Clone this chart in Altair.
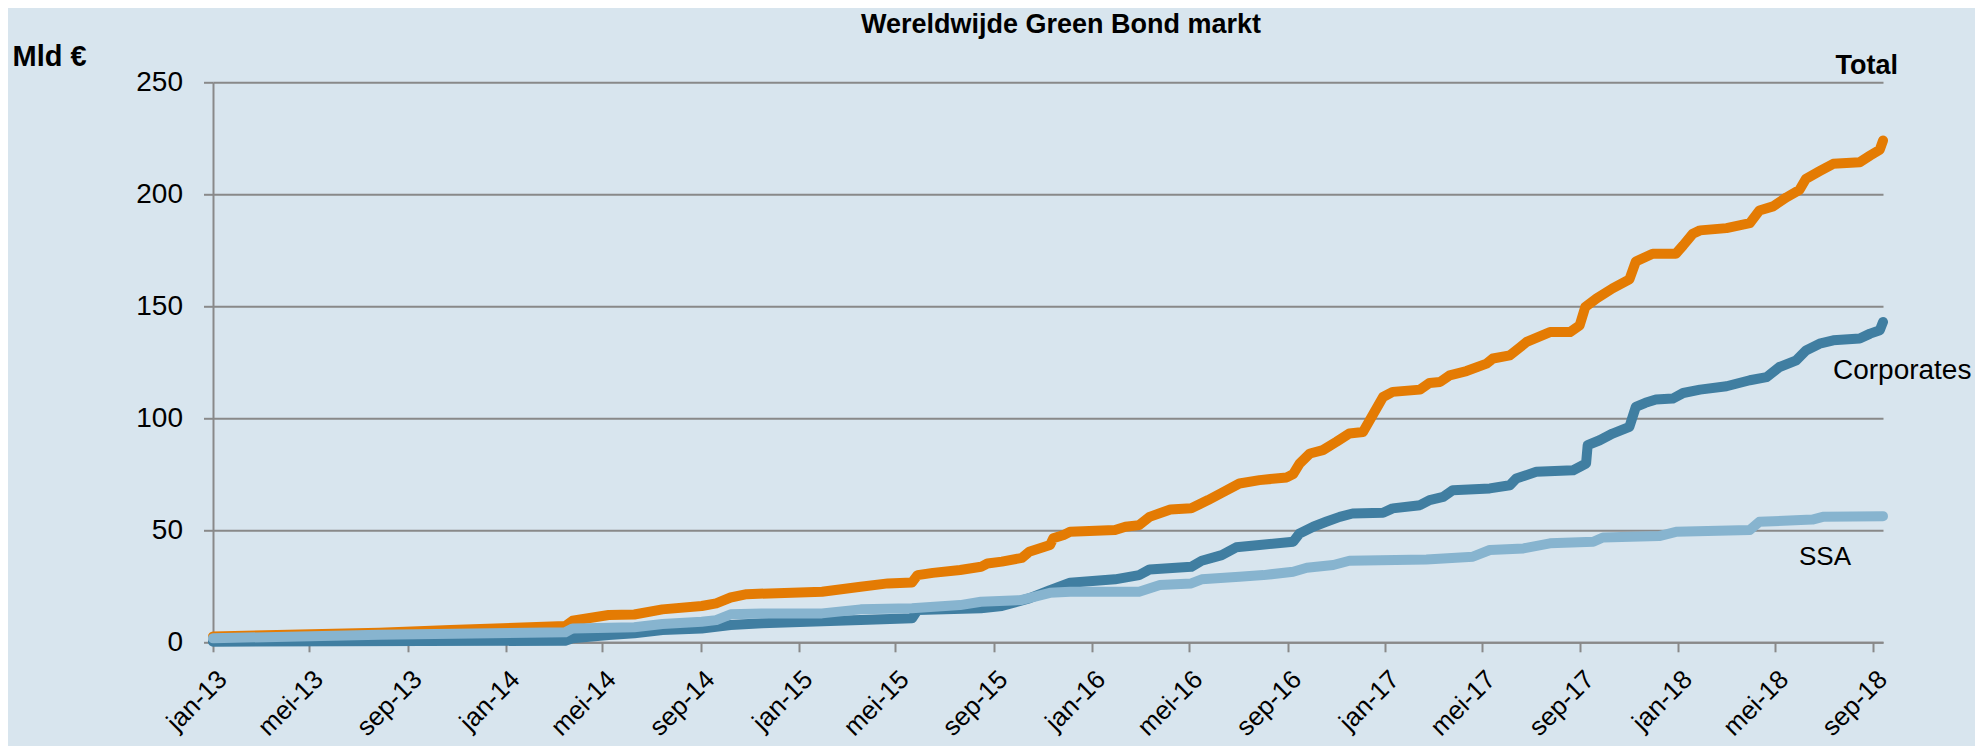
import altair as alt
import pandas as pd

# ---------------- data ----------------
TOTAL_DATES = [
    "2013-01-01", "2013-07-27", "2013-10-24", "2014-03-16", "2014-03-25", "2014-05-09",
    "2014-06-10", "2014-07-15", "2014-09-02", "2014-09-20", "2014-10-08", "2014-10-28",
    "2015-01-30", "2015-03-19", "2015-04-22", "2015-05-22", "2015-05-29", "2015-06-17",
    "2015-07-21", "2015-08-16", "2015-08-24", "2015-09-11", "2015-10-06", "2015-10-15",
    "2015-11-10", "2015-11-14", "2015-11-27", "2015-12-05", "2016-01-30", "2016-02-12",
    "2016-02-29", "2016-03-13", "2016-04-08", "2016-05-04", "2016-05-25", "2016-06-11",
    "2016-07-03", "2016-07-28", "2016-08-31", "2016-09-08", "2016-09-16", "2016-09-29",
    "2016-10-15", "2016-11-01", "2016-11-17", "2016-12-04", "2016-12-29", "2017-01-10",
    "2017-02-13", "2017-02-25", "2017-03-10", "2017-03-22", "2017-04-12", "2017-05-07",
    "2017-05-15", "2017-06-05", "2017-06-18", "2017-06-26", "2017-07-25", "2017-08-19",
    "2017-08-31", "2017-09-07", "2017-09-21", "2017-10-11", "2017-11-01", "2017-11-09",
    "2017-11-30", "2017-12-29", "2018-01-07", "2018-01-19", "2018-01-28", "2018-03-02",
    "2018-03-31", "2018-04-12", "2018-04-29", "2018-05-16", "2018-06-01", "2018-06-09",
    "2018-06-26", "2018-07-13", "2018-08-15", "2018-08-28", "2018-09-09", "2018-09-13",
]
TOTAL_VALUES = [
    2.6, 4.3, 5.5, 7.3, 9.6, 12.2,
    12.4, 14.7, 16.2, 17.4, 20.0, 21.5,
    22.6, 24.8, 26.3, 26.7, 30.0, 31.0,
    32.3, 33.7, 35.2, 36.0, 37.7, 40.4,
    43.4, 46.4, 47.9, 49.3, 50.1, 51.6,
    52.3, 56.0, 59.3, 59.8, 63.5, 66.7,
    70.9, 72.4, 73.6, 75.1, 79.8, 84.3,
    85.8, 89.5, 93.2, 93.9, 109.5, 111.8,
    112.8, 115.8, 116.2, 119.2, 121.1, 124.4,
    126.7, 128.1, 131.8, 134.1, 138.5, 138.5,
    141.5, 149.7, 153.5, 158.0, 162.0, 170.0,
    173.5, 173.5, 177.2, 182.4, 183.9, 184.9,
    187.1, 192.8, 194.6, 198.7, 202.0, 206.9,
    210.3, 213.6, 214.3, 217.3, 219.9, 224.0,
]

CORP_DATES = [
    "2013-01-01", "2014-03-16", "2014-03-25", "2014-05-09", "2014-06-10", "2014-07-15",
    "2014-09-02", "2014-10-08", "2014-11-16", "2015-03-19", "2015-05-22", "2015-05-29",
    "2015-08-16", "2015-09-11", "2015-10-15", "2015-11-10", "2015-12-05", "2016-01-30",
    "2016-02-29", "2016-03-13", "2016-05-04", "2016-05-17", "2016-06-11", "2016-06-29",
    "2016-07-28", "2016-09-08", "2016-09-16", "2016-10-03", "2016-10-19", "2016-11-05",
    "2016-11-21", "2016-12-29", "2017-01-10", "2017-02-13", "2017-02-25", "2017-03-14",
    "2017-03-26", "2017-05-11", "2017-06-05", "2017-06-13", "2017-07-08", "2017-08-23",
    "2017-09-08", "2017-09-10", "2017-09-25", "2017-10-11", "2017-11-01", "2017-11-09",
    "2017-11-21", "2017-12-04", "2017-12-25", "2018-01-07", "2018-01-28", "2018-03-02",
    "2018-03-31", "2018-04-21", "2018-05-07", "2018-05-28", "2018-06-09", "2018-06-26",
    "2018-07-13", "2018-08-15", "2018-08-28", "2018-09-09", "2018-09-13",
]
CORP_VALUES = [
    0.3, 0.7, 1.8, 3.3, 4.0, 5.5,
    6.2, 7.7, 8.5, 9.9, 10.7, 14.4,
    15.2, 16.2, 19.6, 23.3, 26.6, 28.1,
    30.0, 32.5, 33.7, 36.4, 38.9, 42.4,
    43.4, 44.9, 48.6, 51.6, 53.8, 56.0,
    57.5, 57.8, 59.8, 61.2, 63.5, 64.9,
    67.9, 68.7, 70.1, 73.1, 76.1, 76.8,
    79.8, 88.0, 90.2, 93.2, 96.2, 105.1,
    106.9, 108.4, 108.8, 111.3, 112.8, 114.3,
    117.0, 118.4, 122.9, 125.9, 130.3, 133.3,
    134.8, 135.6, 137.8, 139.3, 143.0,
]

SSA_DATES = [
    "2013-01-01", "2013-07-27", "2014-03-16", "2014-03-25", "2014-06-10", "2014-07-15",
    "2014-09-02", "2014-09-20", "2014-10-08", "2014-11-16", "2015-01-30", "2015-03-19",
    "2015-05-22", "2015-07-21", "2015-08-16", "2015-10-06", "2015-11-10", "2015-12-05",
    "2016-02-29", "2016-03-26", "2016-05-04", "2016-05-17", "2016-07-03", "2016-08-02",
    "2016-09-08", "2016-09-25", "2016-10-28", "2016-11-17", "2017-02-21", "2017-04-20",
    "2017-05-11", "2017-06-22", "2017-07-25", "2017-09-17", "2017-09-29", "2017-12-08",
    "2017-12-29", "2018-03-31", "2018-04-12", "2018-06-17", "2018-06-30", "2018-09-13",
]
SSA_VALUES = [
    1.8, 3.4, 4.5, 6.2, 6.7, 8.2,
    9.2, 9.9, 12.5, 12.9, 12.9, 14.7,
    15.2, 16.6, 18.1, 18.9, 22.1, 22.6,
    22.6, 25.6, 26.3, 28.1, 29.3, 30.0,
    31.5, 33.3, 34.5, 36.4, 37.0, 38.2,
    41.2, 41.9, 44.2, 44.9, 46.8, 47.4,
    49.3, 50.1, 53.8, 54.8, 56.0, 56.3,
]

X_DOMAIN = ["2013-01-01", "2018-09-13"]
TICK_DATES = [
    "2013-01-01", "2013-05-01", "2013-09-01", "2014-01-01", "2014-05-01", "2014-09-01",
    "2015-01-01", "2015-05-01", "2015-09-01", "2016-01-01", "2016-05-01", "2016-09-01",
    "2017-01-01", "2017-05-01", "2017-09-01", "2018-01-01", "2018-05-01", "2018-09-01",
]
MONTHS_NL = ["jan", "feb", "mrt", "apr", "mei", "jun", "jul", "aug", "sep", "okt", "nov", "dec"]
Y_TICKS = [0, 50, 100, 150, 200, 250]

TITLE = "Wereldwijde Green Bond markt"
Y_UNIT = "Mld €"
LABEL_TOTAL = "Total"
LABEL_CORP = "Corporates"
LABEL_SSA = "SSA"

# ---------------- styling ----------------
FONT = "Liberation Sans"
BG = "#D8E5EE"
GRID = "#898989"
C_TOTAL = "#E47B03"
C_CORP = "#407EA1"
C_SSA = "#87B4CF"

W, H = 1670, 560

def dt(s):
    t = pd.Timestamp(s)
    return alt.DateTime(year=t.year, month=t.month, date=t.day, utc=True)

month_arr = "[" + ",".join(f"'{m}'" for m in MONTHS_NL) + "]"
label_expr = f"{month_arr}[utcmonth(datum.value)] + '-' + utcFormat(datum.value, '%y')"

x_enc = alt.X(
    "date:T",
    scale=alt.Scale(type="utc", domain=[dt(d) for d in X_DOMAIN]),
    axis=alt.Axis(
        values=[dt(d) for d in TICK_DATES],
        labelExpr=label_expr,
        labelAngle=315,
        labelAlign="right",
        labelBaseline="top",
        labelFontSize=26,
        labelFont=FONT,
        labelColor="#000000",
        labelPadding=14,
        labelOverlap=False,
        labelFlush=False,
        tickSize=9.5,
        tickColor=GRID,
        tickWidth=2,
        domainColor=GRID,
        domainWidth=2,
        grid=False,
        title=None,
    ),
)
y_enc = alt.Y(
    "value:Q",
    scale=alt.Scale(domain=[0, 250], nice=False, zero=True),
    axis=alt.Axis(
        values=Y_TICKS,
        labelFontSize=28,
        labelFont=FONT,
        labelColor="#000000",
        labelPadding=21,
        tickSize=9.5,
        tickColor=GRID,
        tickWidth=2,
        domainColor=GRID,
        domainWidth=2,
        grid=True,
        gridColor=GRID,
        gridWidth=2,
        title=None,
    ),
)

def series(dates, values, color):
    df = pd.DataFrame({"date": dates, "value": values})
    return alt.Chart(df).mark_line(
        color=color, strokeWidth=10, strokeCap="round", strokeJoin="round"
    ).encode(x=x_enc, y=y_enc)

one = pd.DataFrame({"k": [0]})

def label(text, x, y, size, bold=False, align="left"):
    return alt.Chart(one).mark_text(
        text=text, font=FONT, fontSize=size, fontWeight="bold" if bold else "normal",
        align=align, baseline="alphabetic", color="#000000",
    ).encode(x=alt.value(x), y=alt.value(y))

chart = alt.layer(
    series(TOTAL_DATES, TOTAL_VALUES, C_TOTAL),
    series(CORP_DATES, CORP_VALUES, C_CORP),
    series(SSA_DATES, SSA_VALUES, C_SSA),
    label(TITLE, 848, -49.5, 27, bold=True, align="center"),
    label(Y_UNIT, -200.4, -16.3, 29, bold=True),
    label(LABEL_TOTAL, 1685, -8.3, 27, bold=True, align="right"),
    label(LABEL_CORP, 1620, 296.7, 28),
    label(LABEL_SSA, 1586, 482.7, 26),
).properties(
    width=W,
    height=H,
    background=BG,
    autosize=alt.AutoSizeParams(type="none"),
    padding={"left": 205, "top": 74.3, "right": 92, "bottom": 104},
).configure_view(stroke=None)

chart.save("out.html", embed_options={"renderer": "svg", "actions": False})
